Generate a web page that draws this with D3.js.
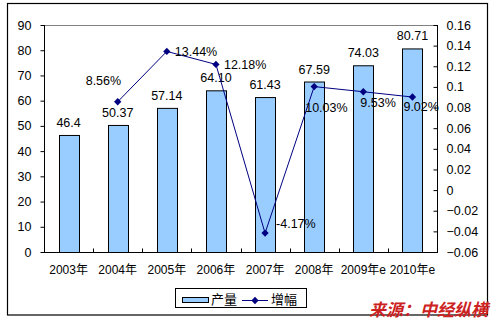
<!DOCTYPE html>
<html>
<head>
<meta charset="utf-8">
<script src="https://cdn.jsdelivr.net/npm/d3@7"></script>
<style>
  html, body { margin: 0; padding: 0; background: #fff; }
  svg { display: block; }
  text { font-family: "Liberation Sans", Arial, "Noto Sans CJK SC", sans-serif; }
</style>
</head>
<body>
<svg id="chart" width="493" height="323"></svg>
<script>
// Output (产量) and growth (增幅), 2003–2010 (last two are estimates)
const categories = ["2003年", "2004年", "2005年", "2006年", "2007年", "2008年", "2009年e", "2010年e"];
const output = [46.4, 50.37, 57.14, 64.10, 61.43, 67.59, 74.03, 80.71];
const outputLabels = ["46.4", "50.37", "57.14", "64.10", "61.43", "67.59", "74.03", "80.71"];
const growth = [null, 0.0856, 0.1344, 0.1218, -0.0417, 0.1003, 0.0953, 0.0902];
const growthLabels = [null, "8.56%", "13.44%", "12.18%", "-4.17%", "10.03%", "9.53%", "9.02%"];
const leftTicks = [0, 10, 20, 30, 40, 50, 60, 70, 80, 90];
const rightTicks = [-0.06, -0.04, -0.02, 0, 0.02, 0.04, 0.06, 0.08, 0.1, 0.12, 0.14, 0.16];

const FS = 12.5;
const svg = d3.select("#chart");
const plot = { left: 44, right: 437, top: 25, bottom: 252 };

// outer frame
svg.append("rect").attr("x", 7.5).attr("y", 3.5).attr("width", 480).attr("height", 311.5)
  .attr("fill", "#fff").attr("stroke", "#000").attr("stroke-width", 1.2);

const x = d3.scaleBand().domain(categories).range([plot.left, plot.right]).paddingInner(0).paddingOuter(0);
const yL = d3.scaleLinear().domain([0, 90]).range([plot.bottom, plot.top]);
const yR = d3.scaleLinear().domain([-0.06, 0.16]).range([plot.bottom, plot.top]);

// plot area top edge
svg.append("line").attr("x1", plot.left).attr("x2", plot.right)
  .attr("y1", plot.top + 0.5).attr("y2", plot.top + 0.5).attr("stroke", "#808080");

// bars
const barW = 20;
svg.append("g").selectAll("rect").data(output).join("rect")
  .attr("x", (d, i) => Math.round(x(categories[i]) + x.bandwidth() / 2 - barW / 2) + 0.5)
  .attr("y", d => yL(d) + 0.5)
  .attr("width", barW)
  .attr("height", d => yL(0) - yL(d))
  .attr("fill", "#99CCFF").attr("stroke", "#000").attr("stroke-width", 1);

// bar value labels
svg.append("g").selectAll("text").data(output).join("text")
  .attr("x", (d, i) => x(categories[i]) + x.bandwidth() / 2)
  .attr("y", d => yL(d) - 8)
  .attr("text-anchor", "middle").attr("font-size", FS).attr("fill", "#000")
  .text((d, i) => outputLabels[i]);

// left axis
const axL = svg.append("g").attr("transform", `translate(${plot.left + 0.5},0)`)
  .call(d3.axisLeft(yL).tickValues(leftTicks).tickSize(4).tickPadding(9).tickFormat(d3.format("d")));
axL.select(".domain").attr("stroke", "#000").attr("d", `M0,${plot.top}V${plot.bottom}`);
axL.selectAll("text").attr("font-size", FS).attr("font-family", "Liberation Sans, Arial, sans-serif").attr("fill", "#000");

// right axis (ticks point inward)
const axR = svg.append("g").attr("transform", `translate(${plot.right + 0.5},0)`)
  .call(d3.axisRight(yR).tickValues(rightTicks).tickSize(-4).tickPadding(9)
    .tickFormat(d => d === 0 ? "0" : d3.format("")(+d.toFixed(2))));
axR.select(".domain").attr("stroke", "#000").attr("d", `M0,${plot.top}V${plot.bottom}`);
axR.selectAll("text").attr("font-size", FS).attr("font-family", "Liberation Sans, Arial, sans-serif").attr("fill", "#000");

// bottom axis with inward ticks between categories
const axB = svg.append("g").attr("transform", `translate(0,${plot.bottom + 0.5})`);
axB.append("line").attr("x1", plot.left).attr("x2", plot.right + 1).attr("stroke", "#000");
axB.selectAll("line.tk").data(categories.slice(1)).join("line").attr("class", "tk")
  .attr("x1", d => Math.round(x(d)) + 0.5).attr("x2", d => Math.round(x(d)) + 0.5)
  .attr("y1", 0).attr("y2", -4).attr("stroke", "#000");
axB.selectAll("text").data(categories).join("text")
  .attr("x", d => x(d) + x.bandwidth() / 2)
  .attr("y", 21)
  .attr("text-anchor", "middle").attr("font-size", 12).attr("fill", "#000")
  .style("font-family", "Liberation Sans, Arial, 'Noto Sans CJK SC', sans-serif")
  .text(d => d);

// growth line
const pts = growth.map((g, i) => ({ g, i })).filter(p => p.g !== null);
const cx = p => x(categories[p.i]) + x.bandwidth() / 2;
const line = d3.line().x(cx).y(p => yR(p.g));
svg.append("path").datum(pts).attr("d", line)
  .attr("fill", "none").attr("stroke", "#000080").attr("stroke-width", 1);

const diamond = d3.symbol().type(d3.symbolDiamond2 || d3.symbolDiamond).size(34);
svg.append("g").selectAll("path").data(pts).join("path")
  .attr("transform", p => `translate(${cx(p)},${yR(p.g)})`)
  .attr("d", diamond).attr("fill", "#000080");

// growth labels (offsets from each point)
const growthOffsets = [null, [-32, -17], [8, 5], [8, 5], [11, -5], [-9, 25], [-3, 15], [-9, 14]];
svg.append("g").selectAll("text").data(pts).join("text")
  .attr("x", p => cx(p) + growthOffsets[p.i][0])
  .attr("y", p => yR(p.g) + growthOffsets[p.i][1])
  .attr("font-size", FS).attr("fill", "#000")
  .text(p => growthLabels[p.i]);

// legend
const lg = svg.append("g");
lg.append("rect").attr("x", 175.5).attr("y", 288.5).attr("width", 131).attr("height", 19)
  .attr("fill", "#fff").attr("stroke", "#000");
lg.append("rect").attr("x", 182.5).attr("y", 297.5).attr("width", 26).attr("height", 5)
  .attr("fill", "#99CCFF").attr("stroke", "#000");
lg.append("text").attr("x", 211).attr("y", 304).attr("font-size", 13)
  .style("font-family", "'Noto Sans CJK SC', sans-serif").text("产量");
lg.append("line").attr("x1", 242).attr("x2", 268).attr("y1", 300.5).attr("y2", 300.5)
  .attr("stroke", "#000080");
lg.append("path").attr("transform", "translate(255,300.5)").attr("d", diamond).attr("fill", "#000080");
lg.append("text").attr("x", 271).attr("y", 304).attr("font-size", 13)
  .style("font-family", "'Noto Sans CJK SC', sans-serif").text("增幅");

// source note
svg.append("text").attr("x", 488).attr("y", 316).attr("text-anchor", "end")
  .attr("font-size", 17).attr("font-weight", "bold").attr("font-style", "italic")
  .attr("fill", "#CC2222")
  .style("font-family", "'Noto Sans CJK SC', sans-serif")
  .text("来源：中经纵横");
</script>
</body>
</html>
